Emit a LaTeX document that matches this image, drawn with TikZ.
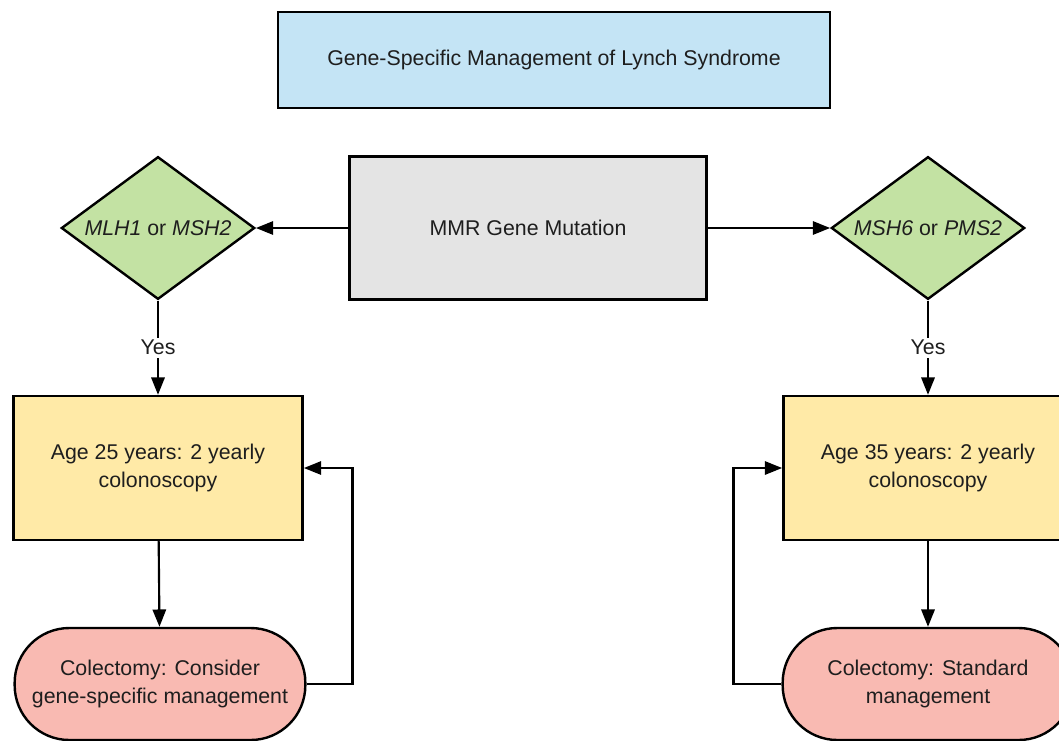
\documentclass[tikz,border=0pt]{standalone}
\usepackage{xcolor}
\usepackage{fontspec}
\setmainfont{Liberation Sans}
\usepackage{tikz}
\usetikzlibrary{shapes.geometric,arrows.meta}

\definecolor{titleblue}{RGB}{196,228,245}
\definecolor{boxgray}{RGB}{228,228,228}
\definecolor{gengreen}{RGB}{195,226,163}
\definecolor{ageyellow}{RGB}{255,234,167}
\definecolor{colpink}{RGB}{249,186,178}
\definecolor{inkgray}{RGB}{30,30,30}

\begin{document}
\begin{tikzpicture}[x=0.75pt,y=-0.75pt,
    font=\fontsize{16}{21}\selectfont, text=inkgray,
    every node/.style={line width=1.8pt,align=center},
    plainbox/.style={draw,rectangle,inner sep=0pt},
    genebox/.style={draw,diamond,aspect=1.35,inner sep=0pt,fill=gengreen,
        minimum width=145pt,minimum height=107pt},
    agebox/.style={plainbox,fill=ageyellow,minimum width=217pt,minimum height=108pt},
    colbox/.style={plainbox,fill=colpink,rounded corners=41pt,
        minimum width=218pt,minimum height=84pt},
    arr/.style={line width=1.6pt,-{Triangle[length=13pt,width=10pt]}}]
    \useasboundingbox (0,0) rectangle (1059,740);
    \node[plainbox,fill=titleblue,minimum width=414pt,minimum height=72pt] (title) at (554,60) {Gene-Specific Management of Lynch Syndrome};
    \node[plainbox,fill=boxgray,minimum width=268pt,minimum height=107pt] (mmr) at (528,228) {MMR Gene Mutation};
    \node[genebox] (g1) at (158,228) {\textit{MLH1} or \textit{MSH2}};
    \node[genebox] (g2) at (928,228) {\textit{MSH6} or \textit{PMS2}};
    \node[agebox] (a1) at (158,468) {Age 25 years: 2 yearly\\colonoscopy};
    \node[agebox] (a2) at (928,468) {Age 35 years: 2 yearly\\colonoscopy};
    \node[colbox] (c1) at (160,684) {Colectomy: Consider\\gene-specific management};
    \node[colbox] (c2) at (928,684) {Colectomy: Standard\\management};
    \draw[arr] (mmr) to (g1);
    \draw[arr] (mmr) to (g2);
    \draw[arr] (g1) to node[fill=white,inner sep=2pt] {Yes} (a1);
    \draw[arr] (g2) to node[fill=white,inner sep=2pt] {Yes} (a2);
    \draw[arr] (a1) to (c1);
    \draw[arr] (a2) to (c2);
    \draw[arr] (c1.east) -- ++(46,0) |- (a1.east);
    \draw[arr] (c2.west) -- ++(-48,0) |- (a2.west);
\end{tikzpicture}
\end{document}
